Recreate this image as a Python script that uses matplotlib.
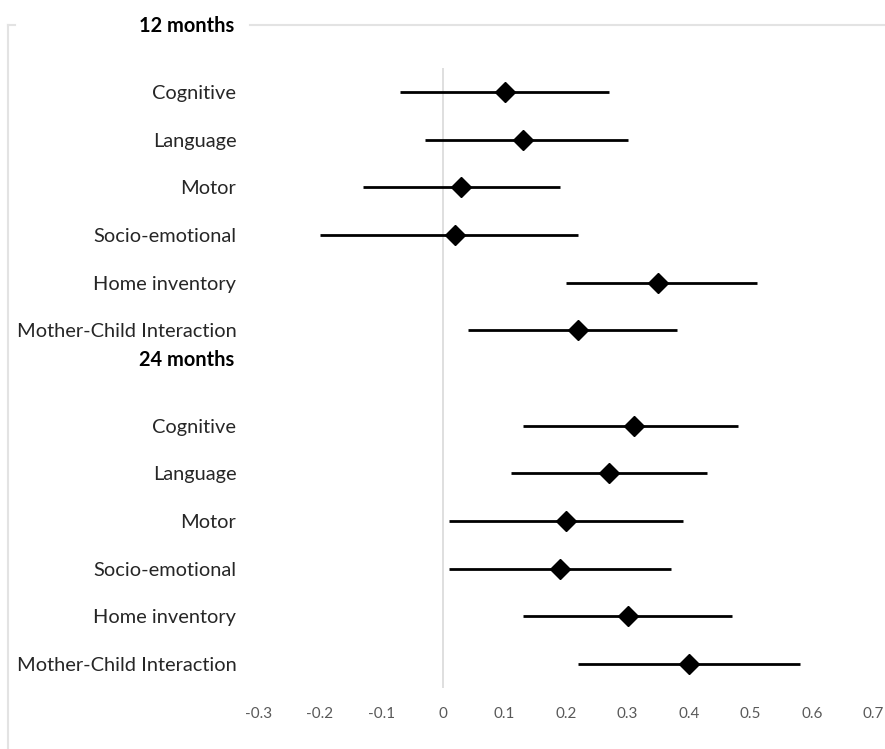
import numpy as np
import matplotlib.pyplot as plt
from matplotlib.lines import Line2D

# outcome labels (same for both ages)
outcomes = ["Cognitive", "Language", "Motor", "Socio-emotional",
            "Home inventory", "Mother-Child Interaction"]

# 12 months: estimate, lower, upper
est_12 = [0.10, 0.13, 0.03, 0.02, 0.35, 0.22]
low_12 = [-0.07, -0.03, -0.13, -0.20, 0.20, 0.04]
high_12 = [0.27, 0.30, 0.19, 0.22, 0.51, 0.38]

# 24 months
est_24 = [0.31, 0.27, 0.20, 0.19, 0.30, 0.40]
low_24 = [0.13, 0.11, 0.01, 0.01, 0.13, 0.22]
high_24 = [0.48, 0.43, 0.39, 0.37, 0.47, 0.58]

xticks = [-0.3, -0.2, -0.1, 0, 0.1, 0.2, 0.3, 0.4, 0.5, 0.6, 0.7]
xticklabels = ["-0.3", "-0.2", "-0.1", "0", "0.1", "0.2", "0.3", "0.4", "0.5", "0.6", "0.7"]

plt.rcParams['font.family'] = ['Lato', 'DejaVu Sans']

W, H = 885, 749
fig = plt.figure(figsize=(W / 100, H / 100), dpi=100)
ax = fig.add_axes([258.5 / W, 1 - 688 / H, (873.5 - 258.5) / W, (688 - 68) / H])

est = np.array(est_12 + est_24)
low = np.array(low_12 + low_24)
high = np.array(high_12 + high_24)
ypos = np.array(list(range(0, 6)) + list(range(7, 13)))

ax.axvline(0, color='#d9d9d9', lw=1.2, zorder=1)
ax.errorbar(est, ypos, xerr=[est - low, high - est], fmt='D', color='black',
            ecolor='black', elinewidth=2, capsize=0, markersize=10.5, zorder=3)

ax.set_xlim(-0.3, 0.7)
ax.set_ylim(12.5, -0.5)
ax.set_xticks(xticks)
ax.set_xticklabels(xticklabels, fontsize=11, color='#595959')
ax.set_yticks(ypos)
ax.set_yticklabels(outcomes + outcomes, fontsize=14.4, color='#262626')
ax.tick_params(axis='both', length=0)
ax.tick_params(axis='y', pad=16)
ax.tick_params(axis='x', pad=14)
for s in ax.spines.values():
    s.set_visible(False)

# group headers
ax.text(-0.3 - 24 / 615, -1.38, "12 months", transform=ax.transData,
        ha='right', va='center', fontsize=14.4, fontweight='bold', color='black')
ax.text(-0.3 - 24 / 615, 5.62, "24 months", transform=ax.transData,
        ha='right', va='center', fontsize=14.4, fontweight='bold', color='black')

# chart-area border (cropped at right and bottom)
bc = '#e3e3e3'
fig.add_artist(Line2D([8 / W, 8 / W], [1 - 25 / H, 0], color=bc, lw=1.5))
fig.add_artist(Line2D([8 / W, 15 / W], [1 - 25 / H, 1 - 25 / H], color=bc, lw=1.5))
fig.add_artist(Line2D([250 / W, 1], [1 - 25 / H, 1 - 25 / H], color=bc, lw=1.5))

fig.savefig("out.png", dpi=100)
